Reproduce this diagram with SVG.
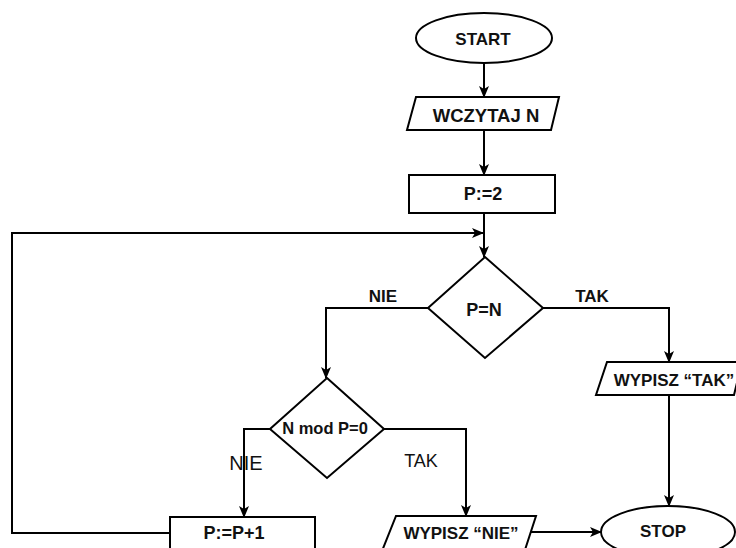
<svg xmlns="http://www.w3.org/2000/svg" width="736" height="548" viewBox="0 0 736 548">
<defs>
<marker id="ah" markerWidth="12" markerHeight="10" refX="11" refY="5" orient="auto" markerUnits="userSpaceOnUse">
<path d="M0,0 L12,5 L0,10 L3,5 z" fill="#000"/>
</marker>
<style>
.s{fill:#fff;stroke:#000;stroke-width:2}
.c{fill:none;stroke:#000;stroke-width:2;marker-end:url(#ah)}
.p{fill:none;stroke:#000;stroke-width:2}
.t{font-family:"Liberation Sans",Arial,sans-serif;font-weight:bold;font-size:17px;fill:#111;text-anchor:middle}
.n{font-family:"Liberation Sans",Arial,sans-serif;font-size:18px;fill:#111;text-anchor:middle}
</style>
</defs>
<rect width="736" height="548" fill="#fff"/>
<g id="connectors">
<path class="c" d="M484,63 L484,97"/>
<path class="c" d="M484,130 L484,175"/>
<path class="c" d="M484,213 L484,257"/>
<path class="c" d="M170,533 L12,533 L12,233 L483,233"/>
<path class="c" d="M428,308 L326,308 L326,378"/>
<path class="c" d="M543,308 L669,308 L669,362"/>
<path class="c" d="M669,395 L669,506"/>
<path class="c" d="M270,429 L244,429 L244,517"/>
<path class="c" d="M384,429 L466,429 L466,516"/>
<path class="c" d="M527,532 L601,532"/>
</g>
<g id="start"><ellipse class="s" cx="484" cy="38" rx="68" ry="25"/><text class="t" x="483" y="45">START</text></g>
<g id="wczytaj"><polygon class="s" points="416,97 559,97 551,130 407,130"/><text class="t" x="486" y="122" style="font-size:18.5px">WCZYTAJ N</text></g>
<g id="p2"><rect class="s" x="409" y="175" width="146" height="38"/><text class="t" x="483" y="200" style="font-size:18px">P:=2</text></g>
<g id="dec1"><polygon class="s" points="485,257 543,308 485,358 428,308"/><text class="t" x="484" y="316" style="font-size:18px">P=N</text></g>
<g id="label-nie1"><text class="t" x="383" y="302">NIE</text></g>
<g id="label-tak1"><text class="t" x="592" y="302">TAK</text></g>
<g id="wypisz-tak"><polygon class="s" points="607,362 742,362 734,395 596,395"/><text class="t" x="674" y="386">WYPISZ “TAK”</text></g>
<g id="dec2"><polygon class="s" points="327,378 384,429 327,478 270,429"/><text class="t" x="325" y="434" style="font-size:16.5px">N mod P=0</text></g>
<g id="label-nie2"><text class="n" x="246" y="470" style="font-size:20px">NIE</text></g>
<g id="label-tak2"><text class="n" x="421" y="467">TAK</text></g>
<g id="pp1"><rect class="s" x="170" y="517" width="145" height="45"/><text class="t" x="234" y="539" style="font-size:18px">P:=P+1</text></g>
<g id="wypisz-nie"><polygon class="s" points="396,516 536,516 523,556 380,556"/><text class="t" x="461" y="539">WYPISZ “NIE”</text></g>
<g id="stop"><ellipse class="s" cx="668" cy="532" rx="67" ry="26"/><text class="t" x="663" y="537">STOP</text></g>
</svg>
